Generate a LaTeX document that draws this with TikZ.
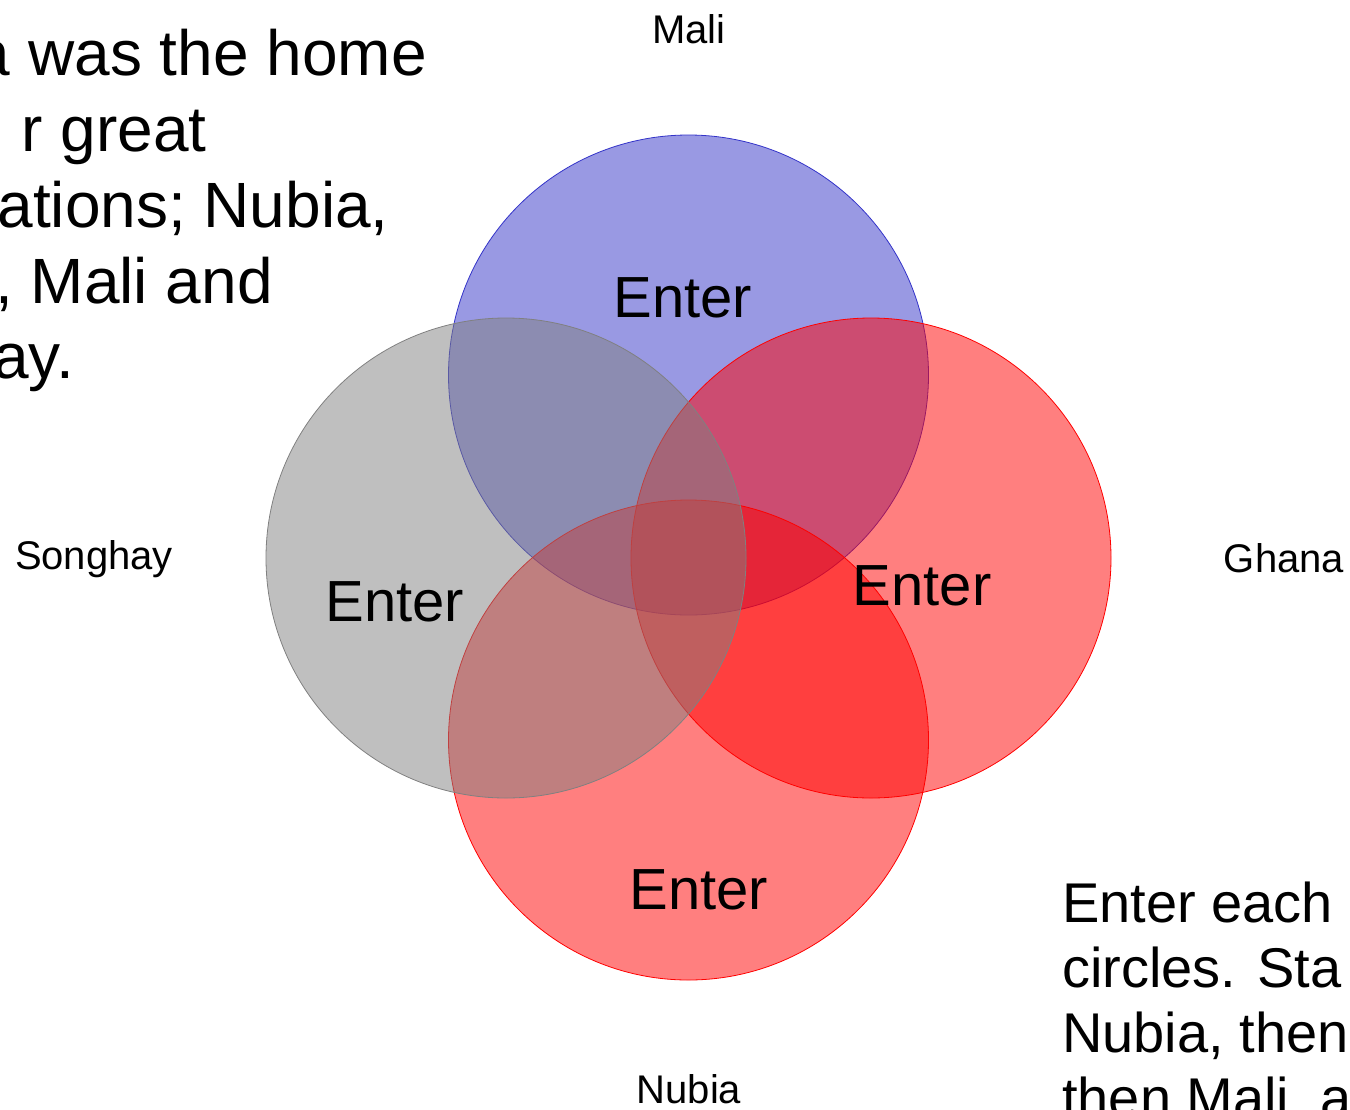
\documentclass[tikz,border=0pt]{standalone}
\usepackage{fontspec}
\setmainfont{Liberation Sans}
\definecolor{maliblue}{RGB}{51,51,200}
\definecolor{songgray}{RGB}{128,128,128}
\definecolor{redc}{RGB}{255,0,0}
\begin{document}
\begin{tikzpicture}[x=1pt,y=-1pt,
  venn/.style={circle,minimum size=480pt,inner sep=0pt,line width=0.8pt,fill opacity=0.5,draw opacity=1},
  big/.style={inner sep=0pt,font=\fontsize{64}{64}\selectfont},
  note/.style={inner sep=0pt,font=\fontsize{56}{56}\selectfont},
  enter/.style={inner sep=0pt,font=\fontsize{58}{58}\selectfont,anchor=base},
  lab/.style={inner sep=0pt,font=\fontsize{40}{40}\selectfont,anchor=base}]
\useasboundingbox (0,0) rectangle (1350,1109);
\clip (0,0) rectangle (1350,1109);
% circles
\node[venn,draw=maliblue,fill=maliblue] (mali) at (688.5,375) {};
\node[venn,draw=redc,fill=redc] (ghana) at (871,558) {};
\node[venn,draw=redc,fill=redc] (nubia) at (688.5,740) {};
\node[venn,draw=songgray,fill=songgray] (songhay) at (506,558) {};
% Enter texts
\node[enter] (emali) at (683,317) {Enter};
\node[enter] (esong) at (395,621) {Enter};
\node[enter] (eghana) at (922,605) {Enter};
\node[enter] (enubia) at (699,909) {Enter};
% labels
\node[lab] (lmali) at (689,43) {Mali};
\node[lab] (lsong) at (94,569) {Songhay};
\node[lab] (lghana) at (1284,572) {Ghana};
\node[lab] (lnubia) at (689,1103) {Nubia};
% top-left text
\node[big,anchor=base east] (t1) at (427,75) {a was the home};
\node[big,anchor=base east] (t2) at (207,151) {r great};
\node[big,anchor=base east] (t3) at (389,227) {ations; Nubia,};
\node[big,anchor=base east] (t4) at (273,303) {, Mali and};
\node[big,anchor=base east] (t5) at (74,378) {ay.};
% bottom-right text
\node[note,anchor=base west] (b1) at (1062,922) {Enter each};
\node[note,anchor=base west] (b2) at (1062,987) {circles. Sta};
\node[note,anchor=base west] (b3) at (1062,1052) {Nubia, then};
\node[note,anchor=base west] (b4) at (1062,1117) {then Mali, a};
\end{tikzpicture}
\end{document}
